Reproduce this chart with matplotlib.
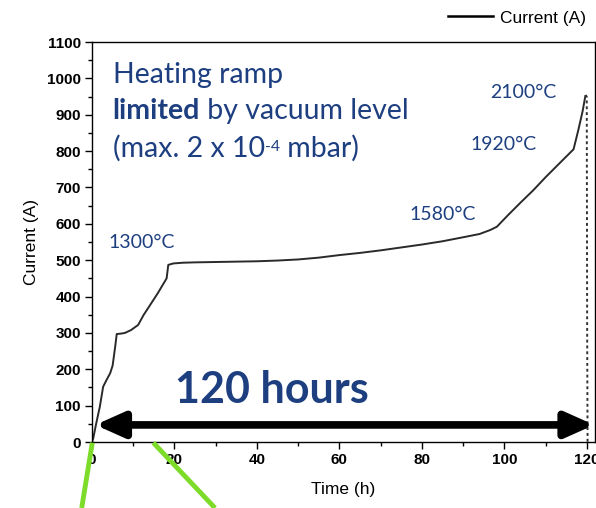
import matplotlib
matplotlib.use("Agg")
import matplotlib.pyplot as plt
from matplotlib.lines import Line2D
from matplotlib.ticker import MultipleLocator

# ---- data ----
time_h = [0.0, 0.3, 1.0, 1.9, 2.7, 3.5, 4.4, 5.0, 5.6, 6.0, 7.0, 8.0, 9.5, 11.2,
          12.5, 14.0, 16.0, 18.1, 18.5, 19.7, 22, 25, 30, 35, 40, 45, 50, 55, 60,
          65, 70, 75, 80, 85, 90, 94, 96.6, 98.2, 101, 104, 107, 110, 113,
          116.8, 118, 119.0, 119.7]
current_a = [0, 10, 50, 97, 152, 170, 189, 210, 260, 297, 298, 300, 308, 322,
             349, 375, 410, 450, 487, 491, 493, 494, 495, 496, 497, 499, 502, 507, 514,
             520, 527, 535, 543, 552, 563, 572, 583, 592, 625, 659, 692, 728, 762,
             805, 860, 910, 954]
drop_time_h = [119.7, 120.0, 120.1, 120.2]
drop_current_a = [954, 950, 300, 0]

temp_labels = ["1300°C", "1580°C", "1920°C", "2100°C"]
temp_pos_t = [3.9, 77.1, 91.7, 96.5]
temp_pos_a = [550, 627, 817, 960]

x_ticks = [0, 20, 40, 60, 80, 100, 120]
y_ticks = [0, 100, 200, 300, 400, 500, 600, 700, 800, 900, 1000, 1100]

BLUE = "#1d3f80"
GREEN = "#7ddc2a"
FS_BIG = 20.5

fig = plt.figure(figsize=(5.96, 5.08), dpi=100)
ax = fig.add_axes([92 / 596, 66 / 508, 503 / 596, 400 / 508])

ax.plot(time_h, current_a, color="#2a2a2a", lw=1.4, solid_capstyle="butt")
ax.plot(drop_time_h, drop_current_a, color="#333333", lw=1.4, ls=(0, (1.5, 1.5)))

ax.set_xlim(0, 122.0)
ax.set_ylim(0, 1100)
ax.set_xticks(x_ticks)
ax.set_yticks(y_ticks)
ax.xaxis.set_minor_locator(MultipleLocator(10))
ax.yaxis.set_minor_locator(MultipleLocator(50))
ax.tick_params(which="major", direction="out", length=5, width=1.0,
               top=False, right=False, pad=3)
ax.tick_params(which="minor", direction="out", length=3, width=1.0,
               top=False, right=False)
for lab in ax.get_xticklabels() + ax.get_yticklabels():
    lab.set_fontfamily("Liberation Sans")
    lab.set_fontweight("bold")
    lab.set_fontsize(11)
for sp in ax.spines.values():
    sp.set_linewidth(1.0)

ax.set_xlabel("Time (h)", fontfamily="Liberation Sans", fontsize=12.5, labelpad=11)
ax.set_ylabel("Current (A)", fontfamily="Liberation Sans", fontsize=12.5, labelpad=6)

# legend outside top right
leg_handle = Line2D([], [], color="black", lw=1.8)
fig.legend([leg_handle], ["Current (A)"], loc="upper right",
           bbox_to_anchor=(1.0, 1.0), frameon=False,
           prop={"family": "Liberation Sans", "size": 12.5},
           handlelength=2.6, handletextpad=0.4, borderaxespad=0.2)

# big annotation text
ax.text(5.0, 1010, "Heating ramp", color=BLUE, fontfamily="Lato", fontsize=FS_BIG,
        va="center", ha="left")
t_lim = ax.text(5.0, 910, "limited", color=BLUE, fontfamily="Lato", fontsize=FS_BIG,
                fontweight="bold", va="center", ha="left")
ax.annotate(" by vacuum level", xy=(1, 0), xycoords=t_lim, va="bottom", ha="left",
            color=BLUE, fontfamily="Lato", fontsize=FS_BIG)
t_max = ax.text(5.0, 808, "(max. 2 x 10", color=BLUE, fontfamily="Lato",
                fontsize=FS_BIG, va="center", ha="left")
t_sup = ax.annotate("-4", xy=(1, 1), xycoords=t_max, xytext=(0.5, -4),
                    textcoords="offset points", va="top", ha="left",
                    color=BLUE, fontfamily="Lato", fontsize=FS_BIG * 0.55)
ax.annotate(" mbar)", xy=(1, 0), xycoords=(t_sup, t_max), xytext=(0, 0),
            textcoords="offset points", va="bottom", ha="left",
            color=BLUE, fontfamily="Lato", fontsize=FS_BIG)

for lab, t, a in zip(temp_labels, temp_pos_t, temp_pos_a):
    ax.text(t, a, lab, color=BLUE, fontfamily="Lato", fontsize=14,
            va="center", ha="left")

ax.text(43.7, 143, "120 hours", color=BLUE, fontfamily="Lato", fontsize=31,
        fontweight="bold", va="center", ha="center")

# double-headed arrow
ax.annotate("", xy=(0.8, 47), xytext=(121.8, 47),
            arrowprops=dict(arrowstyle="<|-|>,head_length=0.85,head_width=0.38",
                            mutation_scale=20, lw=5.5, color="black",
                            shrinkA=0, shrinkB=0))

# green lines in figure pixel coords
for (x0, y0), (x1, y1) in [((92.3, 442.7), (81.7, 508)), ((153.3, 442.7), (215, 508))]:
    fig.add_artist(Line2D([x0 / 596, x1 / 596], [1 - y0 / 508, 1 - y1 / 508],
                          transform=fig.transFigure, color=GREEN, lw=3.5,
                          solid_capstyle="butt"))

fig.savefig("out.png", dpi=100)
